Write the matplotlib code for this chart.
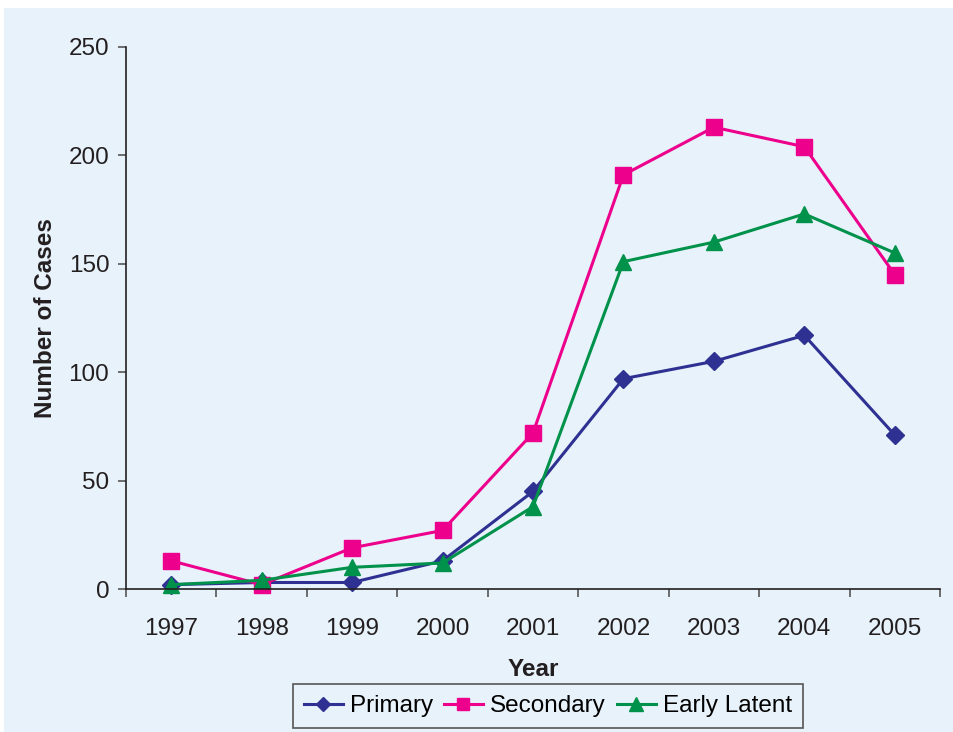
import matplotlib.pyplot as plt
from matplotlib.patches import Rectangle

plt.rcParams['font.family'] = ['Liberation Sans', 'DejaVu Sans']

# data
years = ['1997', '1998', '1999', '2000', '2001', '2002', '2003', '2004', '2005']
primary = [2, 3, 3, 13, 45, 97, 105, 117, 71]
secondary = [13, 2, 19, 27, 72, 191, 213, 204, 145]
early_latent = [2, 4, 10, 12, 38, 151, 160, 173, 155]

panel = '#E8F2FB'
ink = '#231F20'

fig = plt.figure(figsize=(9.54, 7.32), dpi=100, facecolor='white')
fig.patches.append(Rectangle((4/954, 0), 1, 1 - 8/732, transform=fig.transFigure,
                             facecolor=panel, edgecolor='none', zorder=-10))

ax = fig.add_axes([126/954, 1 - 589/732, (940 - 126)/954, (589 - 47)/732])
ax.set_facecolor(panel)

x = range(len(years))
ax.plot(x, primary, color='#2E3192', marker='D', markersize=9, lw=2.2, label='Primary', clip_on=False)
ax.plot(x, secondary, color='#EC008C', marker='s', markersize=11, lw=2.2, label='Secondary', clip_on=False)
ax.plot(x, early_latent, color='#00924A', marker='^', markersize=12, lw=2.2, label='Early Latent', clip_on=False)

ax.set_xlim(-0.5, len(years) - 0.5)
ax.set_ylim(0, 250)
ax.set_yticks(range(0, 251, 50))
ax.set_xticks(list(x))
ax.set_xticklabels(years)
ax.set_xticks([i - 0.5 for i in range(len(years) + 1)], minor=True)
ax.tick_params(axis='x', which='major', length=0, pad=21, labelsize=17.5, colors=ink)
ax.tick_params(axis='x', which='minor', length=6, width=1.2, color='#555555', direction='out')
ax.tick_params(axis='y', length=6, width=1.2, color='#555555', pad=6, labelsize=17.5, labelcolor=ink)

for s in ['top', 'right']:
    ax.spines[s].set_visible(False)
for s in ['left', 'bottom']:
    ax.spines[s].set_color(ink)
    ax.spines[s].set_linewidth(1.2)

ax.set_xlabel('Year', fontsize=17.5, fontweight='bold', color=ink, labelpad=13)
ax.set_ylabel('Number of Cases', fontsize=17.5, fontweight='bold', color=ink, labelpad=8)

leg = fig.legend(loc='center', bbox_to_anchor=(548/954, 1 - 706/732), ncol=3, fontsize=17.5,
                 frameon=True, fancybox=False, edgecolor='#555555', facecolor=panel,
                 handlelength=1.6, handletextpad=0.3, columnspacing=0.45, borderpad=0.45,
                 borderaxespad=0, markerscale=0.8)
leg.get_frame().set_linewidth(1.2)
leg.get_frame().set_alpha(1)

fig.savefig('out.png', dpi=100, facecolor='white')
